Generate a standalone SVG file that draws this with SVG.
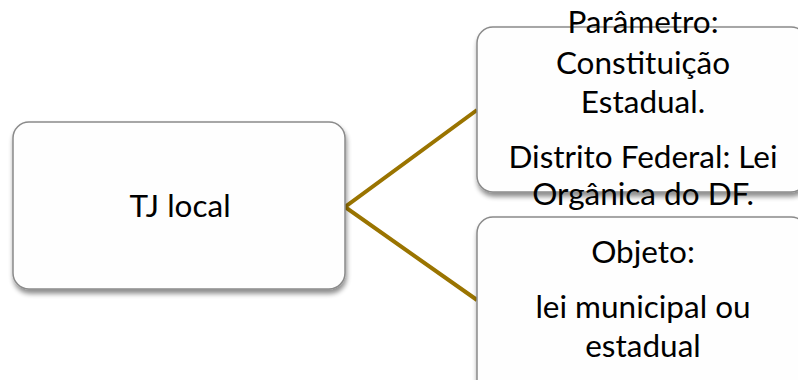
<svg xmlns="http://www.w3.org/2000/svg" width="798" height="380" viewBox="0 0 798 380">
  <defs>
    <filter id="shadow" x="-10%" y="-10%" width="120%" height="130%">
      <feGaussianBlur in="SourceAlpha" stdDeviation="2.5"/>
      <feOffset dx="1" dy="4" result="blur"/>
      <feComponentTransfer><feFuncA type="linear" slope="0.45"/></feComponentTransfer>
      <feMerge><feMergeNode/><feMergeNode in="SourceGraphic"/></feMerge>
    </filter>
    <style>
      .box { fill: #fefefe; stroke: #8a8a8a; stroke-width: 1.5; filter: url(#shadow); }
      .label { font-family: Lato, "Noto Sans", sans-serif; font-size: 31.5px; fill: #000; text-anchor: middle; }
      .link { fill: none; stroke: #9a7400; stroke-width: 4; stroke-linejoin: miter; }
    </style>
  </defs>
  <rect width="798" height="380" fill="#ffffff"/>

  <g id="connectors">
    <polyline class="link" points="477,110 345,207 477,300"/>
  </g>

  <g id="node-tj">
    <rect class="box" x="13" y="122" width="332" height="167" rx="16"/>
    <text class="label" x="180" y="217">TJ local</text>
  </g>

  <g id="node-parametro">
    <rect class="box" x="477" y="27" width="330" height="165" rx="16"/>
    <text class="label" x="643" y="33">Parâmetro:</text>
    <text class="label" x="643" y="74">Constituição</text>
    <text class="label" x="643" y="113">Estadual.</text>
    <text class="label" x="643" y="168">Distrito Federal: Lei</text>
    <text class="label" x="643" y="205">Orgânica do DF.</text>
  </g>

  <g id="node-objeto">
    <rect class="box" x="477" y="217" width="330" height="180" rx="16"/>
    <text class="label" x="643" y="263">Objeto:</text>
    <text class="label" x="643" y="318">lei municipal ou</text>
    <text class="label" x="643" y="357">estadual</text>
  </g>
</svg>
